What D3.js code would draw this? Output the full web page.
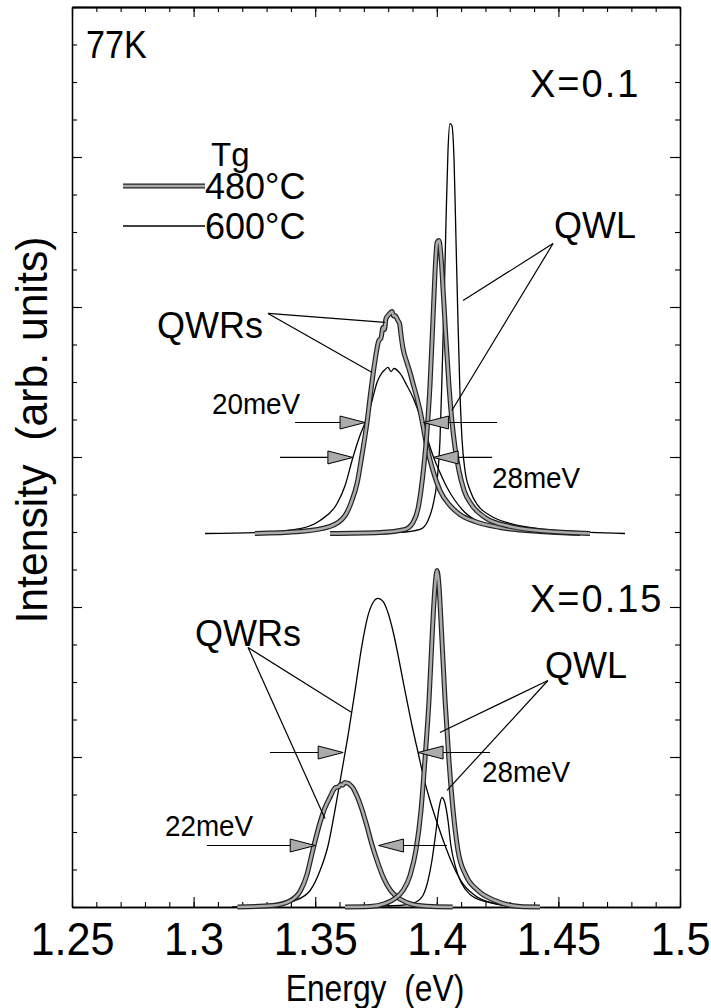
<!DOCTYPE html>
<html>
<head>
<meta charset="utf-8">
<script src="https://cdn.jsdelivr.net/npm/d3@7"></script>
<style>
  html, body { margin: 0; padding: 0; background: #fff; }
  svg { display: block; }
  text { font-family: "Liberation Sans", Arial, Helvetica, sans-serif; fill: #000; }
</style>
</head>
<body>
<svg id="chart" width="711" height="1008"></svg>
<script>
// ---------- data ----------
// x axis: photon energy (eV)
const energyDomain = [1.25, 1.5];
const energyTicks = [1.25, 1.3, 1.35, 1.4, 1.45, 1.5];
const energyTickLabels = ["1.25", "1.3", "1.35", "1.4", "1.45", "1.5"];
// y axis: intensity (arb. units), unlabeled ticks
const intensityDomain = [0, 6];

// vertical offset of each composition's spectra
const offsetX010 = 2.49;
const offsetX015 = 0;

// PL spectra, [energy eV, intensity] — X = 0.1
const qwr480_x010 = [[1.3252,0],[1.3438,0.013],[1.3561,0.047],[1.3623,0.12],[1.3651,0.22],[1.3672,0.333],[1.3692,0.52],[1.3713,0.74],[1.3729,0.953],[1.3746,1.153],[1.3762,1.287],[1.3770,1.30],[1.3779,1.373],[1.3785,1.36],[1.3791,1.433],[1.3803,1.46],[1.3816,1.48],[1.3822,1.45],[1.3828,1.453],[1.3840,1.42],[1.3847,1.40],[1.3853,1.32],[1.3861,1.233],[1.3877,1.14],[1.3890,1.073],[1.3902,1.0],[1.3919,0.9],[1.3931,0.82],[1.3943,0.72],[1.3960,0.573],[1.3984,0.42],[1.4013,0.287],[1.4054,0.187],[1.4095,0.127],[1.4157,0.08],[1.4260,0.04],[1.4424,0.013],[1.4589,0]];
const qwr600_x010 = [[1.3047,0],[1.3273,0.007],[1.3438,0.033],[1.3520,0.087],[1.3590,0.2],[1.3623,0.32],[1.3655,0.507],[1.3684,0.653],[1.3713,0.773],[1.3734,0.887],[1.3754,1.007],[1.3775,1.073],[1.3787,1.093],[1.3799,1.107],[1.3812,1.08],[1.3824,1.1],[1.3849,1.067],[1.3877,0.987],[1.3902,0.907],[1.3923,0.82],[1.3939,0.753],[1.3960,0.64],[1.3984,0.52],[1.4013,0.407],[1.4042,0.307],[1.4075,0.22],[1.4116,0.14],[1.4178,0.073],[1.4260,0.033],[1.4424,0.007],[1.4589,0]];
const qwl480_x010 = [[1.3561,0],[1.3766,0.007],[1.3869,0.027],[1.3902,0.073],[1.3923,0.167],[1.3935,0.287],[1.3947,0.453],[1.3960,0.687],[1.3972,0.987],[1.3984,1.42],[1.3993,1.753],[1.4001,1.94],[1.4009,1.953],[1.4017,1.853],[1.4026,1.62],[1.4038,1.287],[1.4050,0.987],[1.4062,0.753],[1.4075,0.573],[1.4091,0.42],[1.4112,0.287],[1.4145,0.187],[1.4198,0.107],[1.4301,0.047],[1.4465,0.013],[1.4630,0]];
const qwl600_x010 = [[1.3643,0],[1.3849,0.007],[1.3931,0.027],[1.3964,0.087],[1.3984,0.187],[1.4001,0.353],[1.4013,0.62],[1.4021,1.02],[1.4030,1.553],[1.4038,2.087],[1.4046,2.553],[1.4054,2.733],[1.4062,2.72],[1.4071,2.487],[1.4079,1.953],[1.4087,1.42],[1.4095,0.953],[1.4104,0.62],[1.4116,0.42],[1.4137,0.287],[1.4169,0.187],[1.4219,0.12],[1.4301,0.067],[1.4445,0.027],[1.4630,0.007],[1.4774,0]];

// PL spectra, [energy eV, intensity] — X = 0.15
const qwr480_x015 = [[1.3181,0],[1.3325,0.01],[1.3399,0.043],[1.3440,0.11],[1.3465,0.21],[1.3490,0.377],[1.3514,0.53],[1.3539,0.657],[1.3564,0.743],[1.3575,0.78],[1.3584,0.797],[1.3595,0.80],[1.3605,0.817],[1.3613,0.812],[1.3621,0.83],[1.3630,0.826],[1.3638,0.823],[1.3646,0.81],[1.3654,0.797],[1.3671,0.743],[1.3691,0.657],[1.3712,0.543],[1.3732,0.423],[1.3757,0.297],[1.3782,0.19],[1.3810,0.11],[1.3852,0.05],[1.3901,0.017],[1.3983,0.003],[1.4065,0]];
const qwr600_x015 = [[1.3158,0],[1.3314,0.01],[1.3417,0.043],[1.3479,0.11],[1.3520,0.243],[1.3553,0.41],[1.3581,0.643],[1.3610,0.91],[1.3635,1.143],[1.3664,1.443],[1.3692,1.743],[1.3717,1.943],[1.3738,2.03],[1.3758,2.057],[1.3779,2.037],[1.3799,1.963],[1.3824,1.81],[1.3849,1.61],[1.3873,1.41],[1.3898,1.21],[1.3923,1.03],[1.3947,0.857],[1.3972,0.71],[1.4001,0.563],[1.4034,0.41],[1.4067,0.277],[1.4104,0.163],[1.4157,0.077],[1.4239,0.023],[1.4342,0]];
const qwl480_x015 = [[1.3623,0],[1.3725,0.003],[1.3787,0.023],[1.3828,0.057],[1.3861,0.11],[1.3890,0.21],[1.3914,0.377],[1.3935,0.643],[1.3951,0.977],[1.3968,1.377],[1.3984,1.91],[1.3993,2.143],[1.4001,2.243],[1.4009,2.143],[1.4017,1.91],[1.4034,1.377],[1.4050,0.977],[1.4067,0.643],[1.4087,0.377],[1.4120,0.21],[1.4169,0.11],[1.4239,0.043],[1.4342,0.003],[1.4424,0]];
const qwl600_x015 = [[1.3684,0.003],[1.3849,0.01],[1.3910,0.03],[1.3943,0.077],[1.3964,0.177],[1.3980,0.31],[1.3997,0.51],[1.4009,0.657],[1.4021,0.73],[1.4034,0.69],[1.4046,0.577],[1.4058,0.41],[1.4075,0.277],[1.4100,0.163],[1.4137,0.083],[1.4198,0.037],[1.4301,0.01],[1.4424,0.003]];

// FWHM markers: [intensity level, left tail E, left tip E, right tip E, right tail E]
const fwhmX010 = [[0.74, 1.3417, 1.3705, 1.3945, 1.4248], [0.507, 1.3355, 1.3655, 1.3985, 1.4227]];
const fwhmX015 = [[1.03, 1.3314, 1.3615, 1.3923, 1.4219], [0.41, 1.3055, 1.3500, 1.3760, 1.4042]];

// label leader lines: [from E, from I, to E, to I]
const leadersX010 = [[1.3306,1.467,1.3787,1.407],[1.3306,1.467,1.3734,1.073],[1.4478,1.933,1.4108,1.553],[1.4478,1.933,1.4062,0.82]];
const leadersX015 = [[1.3224,1.73,1.3650,1.297],[1.3224,1.73,1.3540,0.59],[1.4457,1.51,1.4013,1.163],[1.4457,1.51,1.4042,0.777]];

// ---------- layout ----------
const M = { left: 72, right: 680, top: 7, bottom: 907 };
const svg = d3.select("#chart");

const x = d3.scaleLinear().domain(energyDomain).range([M.left, M.right]);
const y = d3.scaleLinear().domain(intensityDomain).range([M.bottom, M.top]);

const GRAY = "#ababab";

// ---------- axes ----------
const minorE = d3.range(125, 151).map(v => v / 100);
const minorI = d3.range(0, 25).map(v => v / 4);
const majorI = d3.range(0, 7);

function styleAxis(g) {
  g.selectAll("path.domain").attr("stroke", "#000").attr("stroke-width", 1.3);
  g.selectAll(".tick line").attr("stroke", "#000").attr("stroke-width", 1.1);
}

// bottom
svg.append("g").attr("transform", `translate(0,${M.bottom})`)
  .call(d3.axisBottom(x).tickValues(minorE).tickSizeInner(-5).tickSizeOuter(0).tickFormat(""))
  .call(styleAxis);
const bottomMajor = svg.append("g").attr("transform", `translate(0,${M.bottom})`)
  .call(d3.axisBottom(x).tickValues(energyTicks).tickSizeInner(-10).tickSizeOuter(0).tickPadding(15)
    .tickFormat((d, i) => energyTickLabels[i]))
  .call(styleAxis);
bottomMajor.selectAll("text")
  .attr("font-size", 46).attr("fill", "#000")
  .attr("font-family", '"Liberation Sans", Arial, sans-serif')
  .attr("transform", "scale(0.94,1)");

// top
const topMinor = svg.append("g").attr("transform", `translate(0,${M.top})`)
  .call(d3.axisTop(x).tickValues(minorE).tickSizeInner(-5).tickSizeOuter(0).tickFormat(""))
  .call(styleAxis);
topMinor.select("path.domain").attr("stroke-width", 2);
svg.append("g").attr("transform", `translate(0,${M.top})`)
  .call(d3.axisTop(x).tickValues(energyTicks).tickSizeInner(-10).tickSizeOuter(0).tickFormat(""))
  .call(styleAxis);

// left
svg.append("g").attr("transform", `translate(${M.left},0)`)
  .call(d3.axisLeft(y).tickValues(minorI).tickSizeInner(-5).tickSizeOuter(0).tickFormat(""))
  .call(styleAxis);
svg.append("g").attr("transform", `translate(${M.left},0)`)
  .call(d3.axisLeft(y).tickValues(majorI).tickSizeInner(-10).tickSizeOuter(0).tickFormat(""))
  .call(styleAxis);

// right
svg.append("g").attr("transform", `translate(${M.right},0)`)
  .call(d3.axisRight(y).tickValues(minorI).tickSizeInner(-5).tickSizeOuter(0).tickFormat(""))
  .call(styleAxis);
svg.append("g").attr("transform", `translate(${M.right},0)`)
  .call(d3.axisRight(y).tickValues(majorI).tickSizeInner(-10).tickSizeOuter(0).tickFormat(""))
  .call(styleAxis);

// ---------- spectra ----------
function lineFor(offset) {
  return d3.line().x(d => x(d[0])).y(d => y(d[1] + offset)).curve(d3.curveMonotoneX);
}
function drawThin(data, offset) {
  svg.append("path").datum(data).attr("d", lineFor(offset))
    .attr("fill", "none").attr("stroke", "#000").attr("stroke-width", 1.3);
}
function drawBand(data, offset) {
  const p = lineFor(offset)(data);
  svg.append("path").attr("d", p).attr("fill", "none").attr("stroke", "#222")
    .attr("stroke-width", 5).attr("stroke-linejoin", "round");
  svg.append("path").attr("d", p).attr("fill", "none").attr("stroke", GRAY)
    .attr("stroke-width", 2.6).attr("stroke-linejoin", "round");
}

drawThin(qwr600_x010, offsetX010);
drawThin(qwl600_x010, offsetX010);
drawBand(qwr480_x010, offsetX010);
drawBand(qwl480_x010, offsetX010);

drawThin(qwr600_x015, offsetX015);
drawThin(qwl600_x015, offsetX015);
drawBand(qwr480_x015, offsetX015);
drawBand(qwl480_x015, offsetX015);

// ---------- FWHM arrows ----------
function arrow(tailE, tipE, level) {
  const yy = y(level), xt = x(tipE), xs = x(tailE);
  const dir = Math.sign(xt - xs);
  const len = 25, hw = 6.5;
  svg.append("line").attr("x1", xs).attr("y1", yy).attr("x2", xt - dir * len).attr("y2", yy)
    .attr("stroke", "#000").attr("stroke-width", 1.2);
  svg.append("path")
    .attr("d", `M${xt},${yy} L${xt - dir * len},${yy - hw} L${xt - dir * len},${yy + hw} Z`)
    .attr("fill", GRAY).attr("stroke", "#000").attr("stroke-width", 1);
}
function fwhm(list, offset) {
  list.forEach(([lv, lt, lp, rp, rt]) => {
    arrow(lt, lp, lv + offset);
    arrow(rt, rp, lv + offset);
  });
}
fwhm(fwhmX010, offsetX010);
fwhm(fwhmX015, offsetX015);

// ---------- leader lines ----------
function leaders(list, offset) {
  list.forEach(([e1, i1, e2, i2]) => {
    svg.append("line").attr("x1", x(e1)).attr("y1", y(i1 + offset))
      .attr("x2", x(e2)).attr("y2", y(i2 + offset))
      .attr("stroke", "#000").attr("stroke-width", 1.2);
  });
}
leaders(leadersX010, offsetX010);
leaders(leadersX015, offsetX015);

// ---------- text ----------
function label(str, px, py, size, opts = {}) {
  const sx = opts.sx || 1;
  const t = svg.append("text")
    .attr("transform", `translate(${px},${py}) rotate(${opts.rot || 0}) scale(${sx},1)`)
    .attr("font-size", size)
    .attr("text-anchor", opts.anchor || "start")
    .style("white-space", "pre")
    .text(str);
  if (opts.ls) t.attr("letter-spacing", opts.ls);
  return t;
}

label("77K", 86, 58, 38, { sx: 0.9 });
label("X=0.1", 530, 97, 38, { ls: 2 });
label("X=0.15", 530, 612, 38, { ls: 2 });

// legend
label("Tg", 211, 166, 33);
svg.append("line").attr("x1", 123).attr("x2", 205).attr("y1", 186).attr("y2", 186)
  .attr("stroke", "#222").attr("stroke-width", 5);
svg.append("line").attr("x1", 123).attr("x2", 205).attr("y1", 186).attr("y2", 186)
  .attr("stroke", GRAY).attr("stroke-width", 2.6);
label("480°C", 205, 199, 36);
svg.append("line").attr("x1", 123).attr("x2", 205).attr("y1", 226).attr("y2", 226)
  .attr("stroke", "#000").attr("stroke-width", 1.3);
label("600°C", 205, 239, 36);

label("QWL", 554, 238, 36);
label("QWRs", 157, 338, 36);
label("20meV", 212, 414, 29, { sx: 0.96 });
label("28meV", 492, 488, 29, { sx: 0.96 });
label("QWRs", 195, 646, 36);
label("QWL", 545, 678, 36);
label("28meV", 482, 782, 29, { sx: 0.96 });
label("22meV", 165, 836, 29, { sx: 0.96 });

// axis titles
label("Energy  (eV)", 375, 1001, 37, { anchor: "middle", sx: 0.86 });
label("Intensity  (arb. units)", 47, 430, 45, { anchor: "middle", rot: -90, sx: 0.95 });
</script>
</body>
</html>
